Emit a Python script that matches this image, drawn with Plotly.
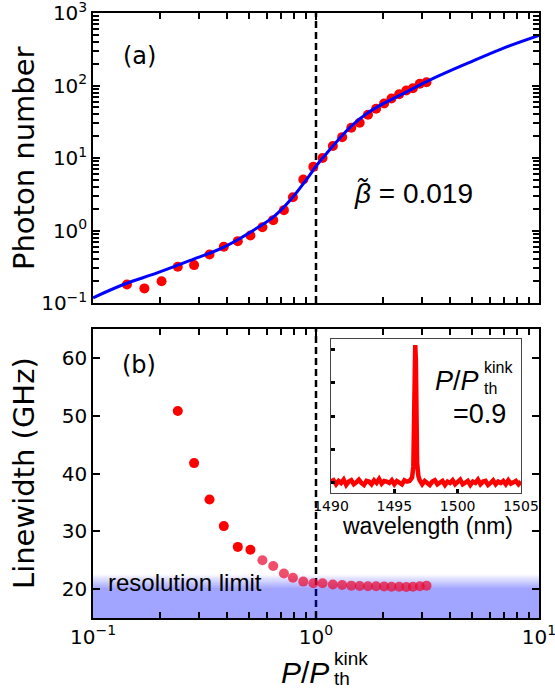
import plotly.graph_objects as go

W, H = 555, 692

# ---------------- data ----------------
power_x = [0.142, 0.170, 0.203, 0.240, 0.284, 0.333, 0.386, 0.446, 0.508, 0.575,
           0.643, 0.718, 0.788, 0.877, 0.973, 1.07, 1.19, 1.31, 1.44, 1.57,
           1.71, 1.86, 2.02, 2.18, 2.36, 2.54, 2.72, 2.92, 3.13]
photon_y = [0.18, 0.159, 0.20, 0.316, 0.333, 0.467, 0.596, 0.713, 0.853, 1.11,
            1.39, 1.91, 2.88, 5.05, 7.55, 10.0, 14.6, 19.4, 26.1, 30.6,
            39.4, 47.8, 56.5, 66.2, 75.8, 85.5, 91.8, 106, 111]

fit_x = [0.100, 0.137, 0.194, 0.273, 0.386, 0.546, 0.649, 0.771, 0.918, 1.00,
         1.10, 1.21, 1.44, 1.71, 2.02, 2.41, 3.41, 4.82, 6.81, 10.0]
fit_y = [0.118, 0.180, 0.260, 0.386, 0.590, 1.09, 1.57, 2.68, 5.33, 7.70,
         11.0, 15.5, 27.5, 42.0, 57.0, 75.0, 128, 205, 321, 490]

lw_x = power_x[3:]
linewidth_y = [50.8, 41.8, 35.5, 30.9, 27.3, 26.8, 25.0, 24.0, 22.7, 21.95,
               21.3, 21.0, 21.0, 20.8, 20.7, 20.6, 20.55, 20.5, 20.5, 20.45,
               20.4, 20.4, 20.35, 20.4, 20.5, 20.6]
n_opaque = 6

threshold = 1.0
resolution_limit = 20.2
beta_text = "0.019"

spec_wl = [1490.0, 1490.2, 1490.4, 1490.6, 1490.8, 1491.0, 1491.2, 1491.4, 1491.6, 1491.8,
           1492.0, 1492.2, 1492.4, 1492.6, 1492.8, 1493.0, 1493.2, 1493.4, 1493.6, 1493.8,
           1494.0, 1494.2, 1494.4, 1494.6, 1494.8, 1495.0, 1495.2, 1495.4, 1495.6, 1495.8,
           1496.0, 1496.2, 1496.4, 1496.5, 1496.55, 1496.6, 1496.65, 1496.7, 1496.75,
           1496.8, 1496.9, 1497.0, 1497.2, 1497.4, 1497.6, 1497.8,
           1498.0, 1498.2, 1498.4, 1498.6, 1498.8, 1499.0, 1499.2, 1499.4, 1499.6, 1499.8,
           1500.0, 1500.2, 1500.4, 1500.6, 1500.8, 1501.0, 1501.2, 1501.4, 1501.6, 1501.8,
           1502.0, 1502.2, 1502.4, 1502.6, 1502.8, 1503.0, 1503.2, 1503.4, 1503.6, 1503.8,
           1504.0, 1504.2, 1504.4, 1504.6, 1504.8, 1505.0]
spec_int = [0.01, 0.02, -0.01, 0.015, 0.00, 0.025, -0.015, 0.01, 0.02, -0.01,
            0.005, 0.025, 0.00, -0.015, 0.015, 0.01, -0.01, 0.02, 0.00, 0.03,
            -0.005, 0.015, 0.01, 0.00, 0.02, -0.01, 0.015, 0.005, -0.01, 0.02,
            0.01, 0.015, 0.04, 0.12, 0.45, 0.90, 1.03, 0.92, 0.50,
            0.15, 0.05, 0.02, -0.01, 0.015, 0.00, -0.015,
            0.01, 0.02, -0.01, 0.00, 0.015, -0.015, 0.01, 0.00, 0.02, -0.01,
            0.01, 0.025, -0.01, 0.00, 0.015, -0.015, 0.01, 0.00, 0.025, -0.01,
            0.01, 0.015, -0.015, 0.00, 0.02, -0.01, 0.01, 0.00, 0.015, -0.01,
            0.02, -0.005, 0.01, 0.015, -0.01, 0.01]

# ---------------- helpers ----------------
def px(x):
    return x / W

def py(y):
    return 1 - y / H

TICKF = dict(family="DejaVu Sans", size=20, color="black")
TXTF = "Liberation Sans, Arial, sans-serif"

dec_x = [0.1, 1, 10]
dec_x_txt = ["10<sup>\u22121</sup>", "10<sup>0</sup>", "10<sup>1</sup>"]
dec_y = [0.1, 1, 10, 100, 1000]
dec_y_txt = ["10<sup>\u22121</sup>", "10<sup>0</sup>", "10<sup>1</sup>",
             "10<sup>2</sup>", "10<sup>3</sup>"]

def minors(decs):
    out = []
    for d in decs[:-1]:
        for m in range(2, 10):
            out.append(round(d * m, 6))
    return out

fig = go.Figure()

# panel (a)
fig.add_trace(go.Scatter(x=power_x, y=photon_y, mode="markers",
                         marker=dict(color="#ff0000", size=10, line=dict(width=0)),
                         xaxis="x", yaxis="y", showlegend=False))
fig.add_trace(go.Scatter(x=fit_x, y=fit_y, mode="lines",
                         line=dict(color="#0000ff", width=3, shape="spline"),
                         xaxis="x", yaxis="y", showlegend=False))

# panel (b)
colors = ["rgba(255,0,0,1)" if i < n_opaque else "rgba(235,10,50,0.72)"
          for i in range(len(linewidth_y))]
fig.add_trace(go.Scatter(x=lw_x, y=linewidth_y, mode="markers",
                         marker=dict(color=colors, size=10, line=dict(width=0)),
                         xaxis="x2", yaxis="y2", showlegend=False))

# inset
fig.add_trace(go.Scatter(x=spec_wl, y=spec_int, mode="lines",
                         line=dict(color="#ff0000", width=4.5),
                         xaxis="x3", yaxis="y3", showlegend=False))

xdom = [px(93), px(539)]
axis_common = dict(showgrid=False, zeroline=False, showline=True, linecolor="black",
                   linewidth=1.5, ticks="inside", tickcolor="black", tickwidth=1.5,
                   ticklen=7, mirror="ticks", tickfont=TICKF, automargin=False,
                   ticklabeloverflow="allow")
minor_common = dict(tickmode="array", ticks="inside", ticklen=6,
                    tickcolor="black", tickwidth=1.5)

fig.update_layout(
    template="none",
    width=W, height=H, margin=dict(l=0, r=0, t=0, b=0, autoexpand=False),
    paper_bgcolor="white", plot_bgcolor="white",
    xaxis=dict(axis_common, type="log", range=[-1, 1], domain=xdom, anchor="y",
               tickmode="array", tickvals=dec_x, showticklabels=False,
               minor=dict(minor_common, tickvals=minors(dec_x))),
    yaxis=dict(axis_common, type="log", range=[-1, 3], domain=[py(303), py(13)],
               anchor="x", tickmode="array", tickvals=dec_y, ticktext=dec_y_txt,
               minor=dict(minor_common, tickvals=minors(dec_y))),
    xaxis2=dict(axis_common, type="log", range=[-1, 1], domain=xdom, anchor="y2",
                tickmode="array", tickvals=dec_x, ticktext=dec_x_txt,
                minor=dict(minor_common, tickvals=minors(dec_x))),
    yaxis2=dict(axis_common, range=[15, 65], domain=[py(618), py(329)], anchor="x2",
                tickmode="array", tickvals=[20, 30, 40, 50, 60]),
    xaxis3=dict(showgrid=False, zeroline=False, showline=True, linecolor="#444",
                linewidth=1, mirror=True, ticks="inside", tickcolor="black",
                tickwidth=3, ticklen=4, range=[1490, 1505], automargin=False,
                tickvals=[1490, 1495, 1500, 1505], ticklabeloverflow="allow",
                tickfont=dict(family="DejaVu Sans", size=14, color="black"),
                domain=[px(331), px(521)], anchor="y3"),
    yaxis3=dict(showgrid=False, zeroline=False, showline=True, linecolor="#444",
                linewidth=1, mirror=True, ticks="inside", tickcolor="black",
                tickwidth=3, ticklen=4, range=[-0.075, 1.075], automargin=False,
                tickvals=[0, 0.25, 0.5, 0.75, 1.0], showticklabels=False,
                domain=[py(493), py(339)], anchor="x3"),
)

shapes = []
# threshold dashed lines (below band so the band tints them)
for xr, yr in (("x", "y domain"), ("x2", "y2 domain")):
    shapes.append(dict(type="line", xref=xr, yref=yr, x0=threshold, x1=threshold,
                       y0=0, y1=1, layer="below",
                       line=dict(color="black", width=2.5, dash="7px,4px")))
# resolution band (gradient)
band_rgb = "0,10,255"
a_max = 0.37
shapes.append(dict(type="rect", xref="x2 domain", yref="y2", x0=0, x1=1,
                   y0=15, y1=resolution_limit, line=dict(width=0),
                   fillcolor=f"rgba({band_rgb},{a_max})", layer="below"))
n = 24
top = resolution_limit + 2.4
for i in range(n):
    y0 = resolution_limit + (top - resolution_limit) * i / n
    y1 = resolution_limit + (top - resolution_limit) * (i + 1) / n
    a = a_max * (1 - (i + 0.5) / n)
    shapes.append(dict(type="rect", xref="x2 domain", yref="y2", x0=0, x1=1,
                       y0=y0, y1=y1, line=dict(width=0),
                       fillcolor=f"rgba({band_rgb},{a:.4f})", layer="below"))
fig.update_layout(shapes=shapes)

ann = []
def text(x, y, s, size, xanchor="center", yanchor="middle", family=TXTF, angle=0):
    ann.append(dict(x=px(x), y=py(y), xref="paper", yref="paper", text=s,
                    showarrow=False, xanchor=xanchor, yanchor=yanchor,
                    textangle=angle, font=dict(family=family, size=size, color="black")))

text(139, 56, "(a)", 24, family="DejaVu Sans")
text(139, 365, "(b)", 24, family="DejaVu Sans")
text(413, 193, "<i>\u03b2\u0303</i> = " + beta_text, 28)
text(24, 158, "Photon number", 29, family="DejaVu Sans", angle=-90)
text(24, 473, "Linewidth (GHz)", 29, family="DejaVu Sans", angle=-90)
text(185, 582, "resolution limit", 24)
# x title
text(331, 672, "<i>P</i>/<i>P</i>", 30, xanchor="right")
text(332, 658, "kink", 19, xanchor="left")
text(332, 678, "th", 19, xanchor="left")
# inset text
text(481, 381, "<i>P</i>/<i>P</i>", 27, xanchor="right")
text(482, 367, "kink", 16, xanchor="left")
text(482, 388, "th", 16, xanchor="left")
text(508, 414, "=0.9", 27, xanchor="right")
text(427, 526, "wavelength (nm)", 23)
fig.update_layout(annotations=ann)

fig.write_html("out.html")
